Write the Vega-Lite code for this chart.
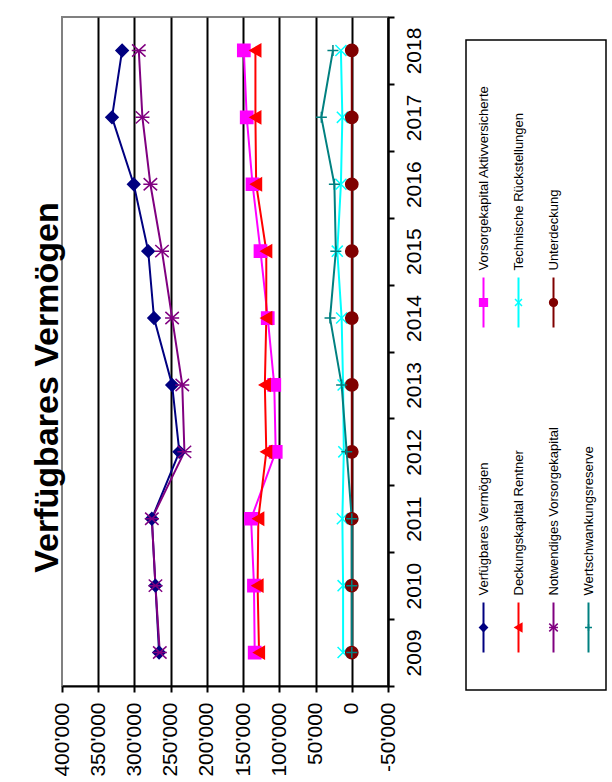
{
  "$schema": "https://vega.github.io/schema/vega-lite/v6.json",
  "padding": {"left": 29, "top": 14, "right": 0, "bottom": 0},
  "background": "white",
  "config": {"font": "Liberation Sans", "text": {"font": "Liberation Sans"}},
  "datasets": {
    "werte": [
      {"series": "Verfügbares Vermögen", "year": 2009, "value": 266000},
      {"series": "Verfügbares Vermögen", "year": 2010, "value": 271000},
      {"series": "Verfügbares Vermögen", "year": 2011, "value": 276000},
      {"series": "Verfügbares Vermögen", "year": 2012, "value": 238000},
      {"series": "Verfügbares Vermögen", "year": 2013, "value": 248000},
      {"series": "Verfügbares Vermögen", "year": 2014, "value": 273000},
      {"series": "Verfügbares Vermögen", "year": 2015, "value": 281000},
      {"series": "Verfügbares Vermögen", "year": 2016, "value": 301000},
      {"series": "Verfügbares Vermögen", "year": 2017, "value": 331000},
      {"series": "Verfügbares Vermögen", "year": 2018, "value": 317000},
      {"series": "Vorsorgekapital Aktivversicherte", "year": 2009, "value": 134000},
      {"series": "Vorsorgekapital Aktivversicherte", "year": 2010, "value": 135000},
      {"series": "Vorsorgekapital Aktivversicherte", "year": 2011, "value": 139000},
      {"series": "Vorsorgekapital Aktivversicherte", "year": 2012, "value": 105000},
      {"series": "Vorsorgekapital Aktivversicherte", "year": 2013, "value": 107000},
      {"series": "Vorsorgekapital Aktivversicherte", "year": 2014, "value": 116000},
      {"series": "Vorsorgekapital Aktivversicherte", "year": 2015, "value": 126000},
      {"series": "Vorsorgekapital Aktivversicherte", "year": 2016, "value": 137000},
      {"series": "Vorsorgekapital Aktivversicherte", "year": 2017, "value": 145000},
      {"series": "Vorsorgekapital Aktivversicherte", "year": 2018, "value": 149000},
      {"series": "Deckungskapital Rentner", "year": 2009, "value": 128000},
      {"series": "Deckungskapital Rentner", "year": 2010, "value": 130000},
      {"series": "Deckungskapital Rentner", "year": 2011, "value": 129000},
      {"series": "Deckungskapital Rentner", "year": 2012, "value": 118000},
      {"series": "Deckungskapital Rentner", "year": 2013, "value": 120000},
      {"series": "Deckungskapital Rentner", "year": 2014, "value": 118000},
      {"series": "Deckungskapital Rentner", "year": 2015, "value": 118000},
      {"series": "Deckungskapital Rentner", "year": 2016, "value": 132000},
      {"series": "Deckungskapital Rentner", "year": 2017, "value": 133000},
      {"series": "Deckungskapital Rentner", "year": 2018, "value": 133000},
      {"series": "Technische Rückstellungen", "year": 2009, "value": 12000},
      {"series": "Technische Rückstellungen", "year": 2010, "value": 12000},
      {"series": "Technische Rückstellungen", "year": 2011, "value": 13000},
      {"series": "Technische Rückstellungen", "year": 2012, "value": 11000},
      {"series": "Technische Rückstellungen", "year": 2013, "value": 12000},
      {"series": "Technische Rückstellungen", "year": 2014, "value": 14000},
      {"series": "Technische Rückstellungen", "year": 2015, "value": 20000},
      {"series": "Technische Rückstellungen", "year": 2016, "value": 15000},
      {"series": "Technische Rückstellungen", "year": 2017, "value": 13000},
      {"series": "Technische Rückstellungen", "year": 2018, "value": 15000},
      {"series": "Notwendiges Vorsorgekapital", "year": 2009, "value": 265000},
      {"series": "Notwendiges Vorsorgekapital", "year": 2010, "value": 271000},
      {"series": "Notwendiges Vorsorgekapital", "year": 2011, "value": 276000},
      {"series": "Notwendiges Vorsorgekapital", "year": 2012, "value": 231000},
      {"series": "Notwendiges Vorsorgekapital", "year": 2013, "value": 234000},
      {"series": "Notwendiges Vorsorgekapital", "year": 2014, "value": 248000},
      {"series": "Notwendiges Vorsorgekapital", "year": 2015, "value": 262000},
      {"series": "Notwendiges Vorsorgekapital", "year": 2016, "value": 278000},
      {"series": "Notwendiges Vorsorgekapital", "year": 2017, "value": 289000},
      {"series": "Notwendiges Vorsorgekapital", "year": 2018, "value": 294000},
      {"series": "Unterdeckung", "year": 2009, "value": 0},
      {"series": "Unterdeckung", "year": 2010, "value": 0},
      {"series": "Unterdeckung", "year": 2011, "value": 0},
      {"series": "Unterdeckung", "year": 2012, "value": 0},
      {"series": "Unterdeckung", "year": 2013, "value": 0},
      {"series": "Unterdeckung", "year": 2014, "value": 0},
      {"series": "Unterdeckung", "year": 2015, "value": 0},
      {"series": "Unterdeckung", "year": 2016, "value": 0},
      {"series": "Unterdeckung", "year": 2017, "value": 0},
      {"series": "Unterdeckung", "year": 2018, "value": 0},
      {"series": "Wertschwankungsreserve", "year": 2009, "value": 0},
      {"series": "Wertschwankungsreserve", "year": 2010, "value": 0},
      {"series": "Wertschwankungsreserve", "year": 2011, "value": 0},
      {"series": "Wertschwankungsreserve", "year": 2012, "value": 7000},
      {"series": "Wertschwankungsreserve", "year": 2013, "value": 14000},
      {"series": "Wertschwankungsreserve", "year": 2014, "value": 30000},
      {"series": "Wertschwankungsreserve", "year": 2015, "value": 22000},
      {"series": "Wertschwankungsreserve", "year": 2016, "value": 24000},
      {"series": "Wertschwankungsreserve", "year": 2017, "value": 42000},
      {"series": "Wertschwankungsreserve", "year": 2018, "value": 26000}
    ],
    "legende": [
      {"series": "Verfügbares Vermögen"},
      {"series": "Vorsorgekapital Aktivversicherte"},
      {"series": "Deckungskapital Rentner"},
      {"series": "Technische Rückstellungen"},
      {"series": "Notwendiges Vorsorgekapital"},
      {"series": "Unterdeckung"},
      {"series": "Wertschwankungsreserve"}
    ]
  },
  "spacing": 40,
  "hconcat": [
    {
      "width": 326,
      "height": 669,
      "title": {"text": "Verfügbares Vermögen", "orient": "left", "fontSize": 34, "fontWeight": "bold", "font": "Liberation Sans", "color": "black", "offset": -14, "dx": -36},
      "view": {"stroke": "#808080", "strokeWidth": 2},
      "data": {"name": "werte"},
      "encoding": {
        "x": {
          "field": "value", "type": "quantitative",
          "scale": {"domain": [-50000, 400000], "reverse": true, "nice": false, "zero": false},
          "axis": {
            "orient": "bottom", "title": null,
            "values": [-50000, 0, 50000, 100000, 150000, 200000, 250000, 300000, 350000, 400000],
            "grid": true, "gridColor": "black", "gridWidth": 2,
            "gridOpacity": {"condition": {"test": "datum.value == 400000", "value": 0}, "value": 1},
            "domainColor": "black", "domainWidth": 2,
            "tickColor": "black", "tickWidth": 2, "tickSize": 6,
            "labelAngle": 270, "labelAlign": "right", "labelBaseline": "middle",
            "labelFontSize": 21, "labelColor": "black", "labelPadding": 10,
            "labelFont": "Liberation Sans", "labelOverlap": false,
            "labelExpr": "(datum.value < 0 ? '-' : '') + replace(format(abs(datum.value), ','), regexp(',', 'g'), \"'\")"
          }
        },
        "y": {
          "field": "year", "type": "ordinal", "sort": "descending",
          "scale": {"type": "band", "paddingInner": 0, "paddingOuter": 0},
          "axis": {
            "orient": "right", "title": null, "tickBand": "extent", "grid": false,
            "domainColor": "black", "domainWidth": 2,
            "tickColor": "black", "tickWidth": 2, "tickSize": 6,
            "labelAngle": 270, "labelAlign": "center", "labelBaseline": "top",
            "labelFontSize": 21, "labelColor": "black", "labelPadding": 9,
            "labelFont": "Liberation Sans"
          }
        },
        "color": {
          "field": "series", "type": "nominal", "legend": null,
          "scale": {
            "domain": ["Verfügbares Vermögen", "Vorsorgekapital Aktivversicherte", "Deckungskapital Rentner", "Technische Rückstellungen", "Notwendiges Vorsorgekapital", "Unterdeckung", "Wertschwankungsreserve"],
            "range": ["#000080", "#FF00FF", "#FF0000", "#00FFFF", "#800080", "#800000", "#008080"]
          }
        }
      },
      "layer": [
        {
          "mark": {"type": "line", "strokeWidth": 2},
          "encoding": {"order": {"field": "year", "type": "quantitative"}}
        },
        {
          "mark": {"type": "point", "filled": true, "opacity": 1, "size": 150, "strokeWidth": 1.5},
          "encoding": {
            "shape": {
              "field": "series", "type": "nominal", "legend": null,
              "scale": {
                "domain": ["Verfügbares Vermögen", "Vorsorgekapital Aktivversicherte", "Deckungskapital Rentner", "Technische Rückstellungen", "Notwendiges Vorsorgekapital", "Unterdeckung", "Wertschwankungsreserve"],
                "range": ["diamond", "square", "triangle-left", "M-0.9,-0.9L0.9,0.9M-0.9,0.9L0.9,-0.9", "M-1.1,-1L1.1,1M-1.1,1L1.1,-1M-1.15,0L1.15,0", "circle", "M-0.9,0L0.9,0M0,-0.9L0,0.9"]
              }
            },
            "stroke": {
              "field": "series", "type": "nominal", "legend": null,
              "scale": {
                "domain": ["Verfügbares Vermögen", "Vorsorgekapital Aktivversicherte", "Deckungskapital Rentner", "Technische Rückstellungen", "Notwendiges Vorsorgekapital", "Unterdeckung", "Wertschwankungsreserve"],
                "range": ["#000080", "#FF00FF", "#FF0000", "#00FFFF", "#800080", "#800000", "#008080"]
              }
            }
          }
        }
      ]
    },
    {
      "spacing": 18,
      "vconcat": [
        {
          "width": 140,
          "height": 1,
          "view": {"stroke": null},
          "data": {"values": [{}]},
          "mark": {"type": "point", "opacity": 0}
        },
        {
          "width": 140,
          "height": 650,
          "view": {"stroke": "black", "strokeWidth": 1.5},
          "data": {"name": "legende"},
          "transform": [
            {"window": [{"op": "row_number", "as": "nr"}]},
            {"calculate": "floor((datum.nr - 1) / 2)", "as": "spalte"},
            {"calculate": "(datum.nr - 1) % 2", "as": "zeile"}
          ],
          "encoding": {
            "x": {"field": "spalte", "type": "ordinal", "scale": {"type": "point", "padding": 0.5}, "axis": null},
            "y": {"field": "zeile", "type": "ordinal", "sort": "descending", "scale": {"type": "point", "padding": 0.5}, "axis": null},
            "color": {
              "field": "series", "type": "nominal", "legend": null,
              "scale": {
                "domain": ["Verfügbares Vermögen", "Vorsorgekapital Aktivversicherte", "Deckungskapital Rentner", "Technische Rückstellungen", "Notwendiges Vorsorgekapital", "Unterdeckung", "Wertschwankungsreserve"],
                "range": ["#000080", "#FF00FF", "#FF0000", "#00FFFF", "#800080", "#800000", "#008080"]
              }
            }
          },
          "layer": [
            {
              "mark": {"type": "rule", "strokeWidth": 2, "yOffset": 75, "y2Offset": 125},
              "encoding": {"y2": {"field": "zeile"}}
            },
            {
              "mark": {"type": "point", "filled": true, "opacity": 1, "size": 60, "strokeWidth": 1.5, "yOffset": 100},
              "encoding": {
                "shape": {
                  "field": "series", "type": "nominal", "legend": null,
                  "scale": {
                    "domain": ["Verfügbares Vermögen", "Vorsorgekapital Aktivversicherte", "Deckungskapital Rentner", "Technische Rückstellungen", "Notwendiges Vorsorgekapital", "Unterdeckung", "Wertschwankungsreserve"],
                    "range": ["diamond", "square", "triangle-left", "M-0.9,-0.9L0.9,0.9M-0.9,0.9L0.9,-0.9", "M-1.1,-1L1.1,1M-1.1,1L1.1,-1M-1.15,0L1.15,0", "circle", "M-0.9,0L0.9,0M0,-0.9L0,0.9"]
                  }
                },
                "stroke": {
                  "field": "series", "type": "nominal", "legend": null,
                  "scale": {
                    "domain": ["Verfügbares Vermögen", "Vorsorgekapital Aktivversicherte", "Deckungskapital Rentner", "Technische Rückstellungen", "Notwendiges Vorsorgekapital", "Unterdeckung", "Wertschwankungsreserve"],
                    "range": ["#000080", "#FF00FF", "#FF0000", "#00FFFF", "#800080", "#800000", "#008080"]
                  }
                }
              }
            },
            {
              "mark": {"type": "text", "angle": 270, "align": "left", "baseline": "middle", "fontSize": 13, "font": "Liberation Sans", "color": "black", "yOffset": 68},
              "encoding": {"text": {"field": "series"}, "color": {"value": "black"}}
            }
          ]
        }
      ]
    }
  ]
}
